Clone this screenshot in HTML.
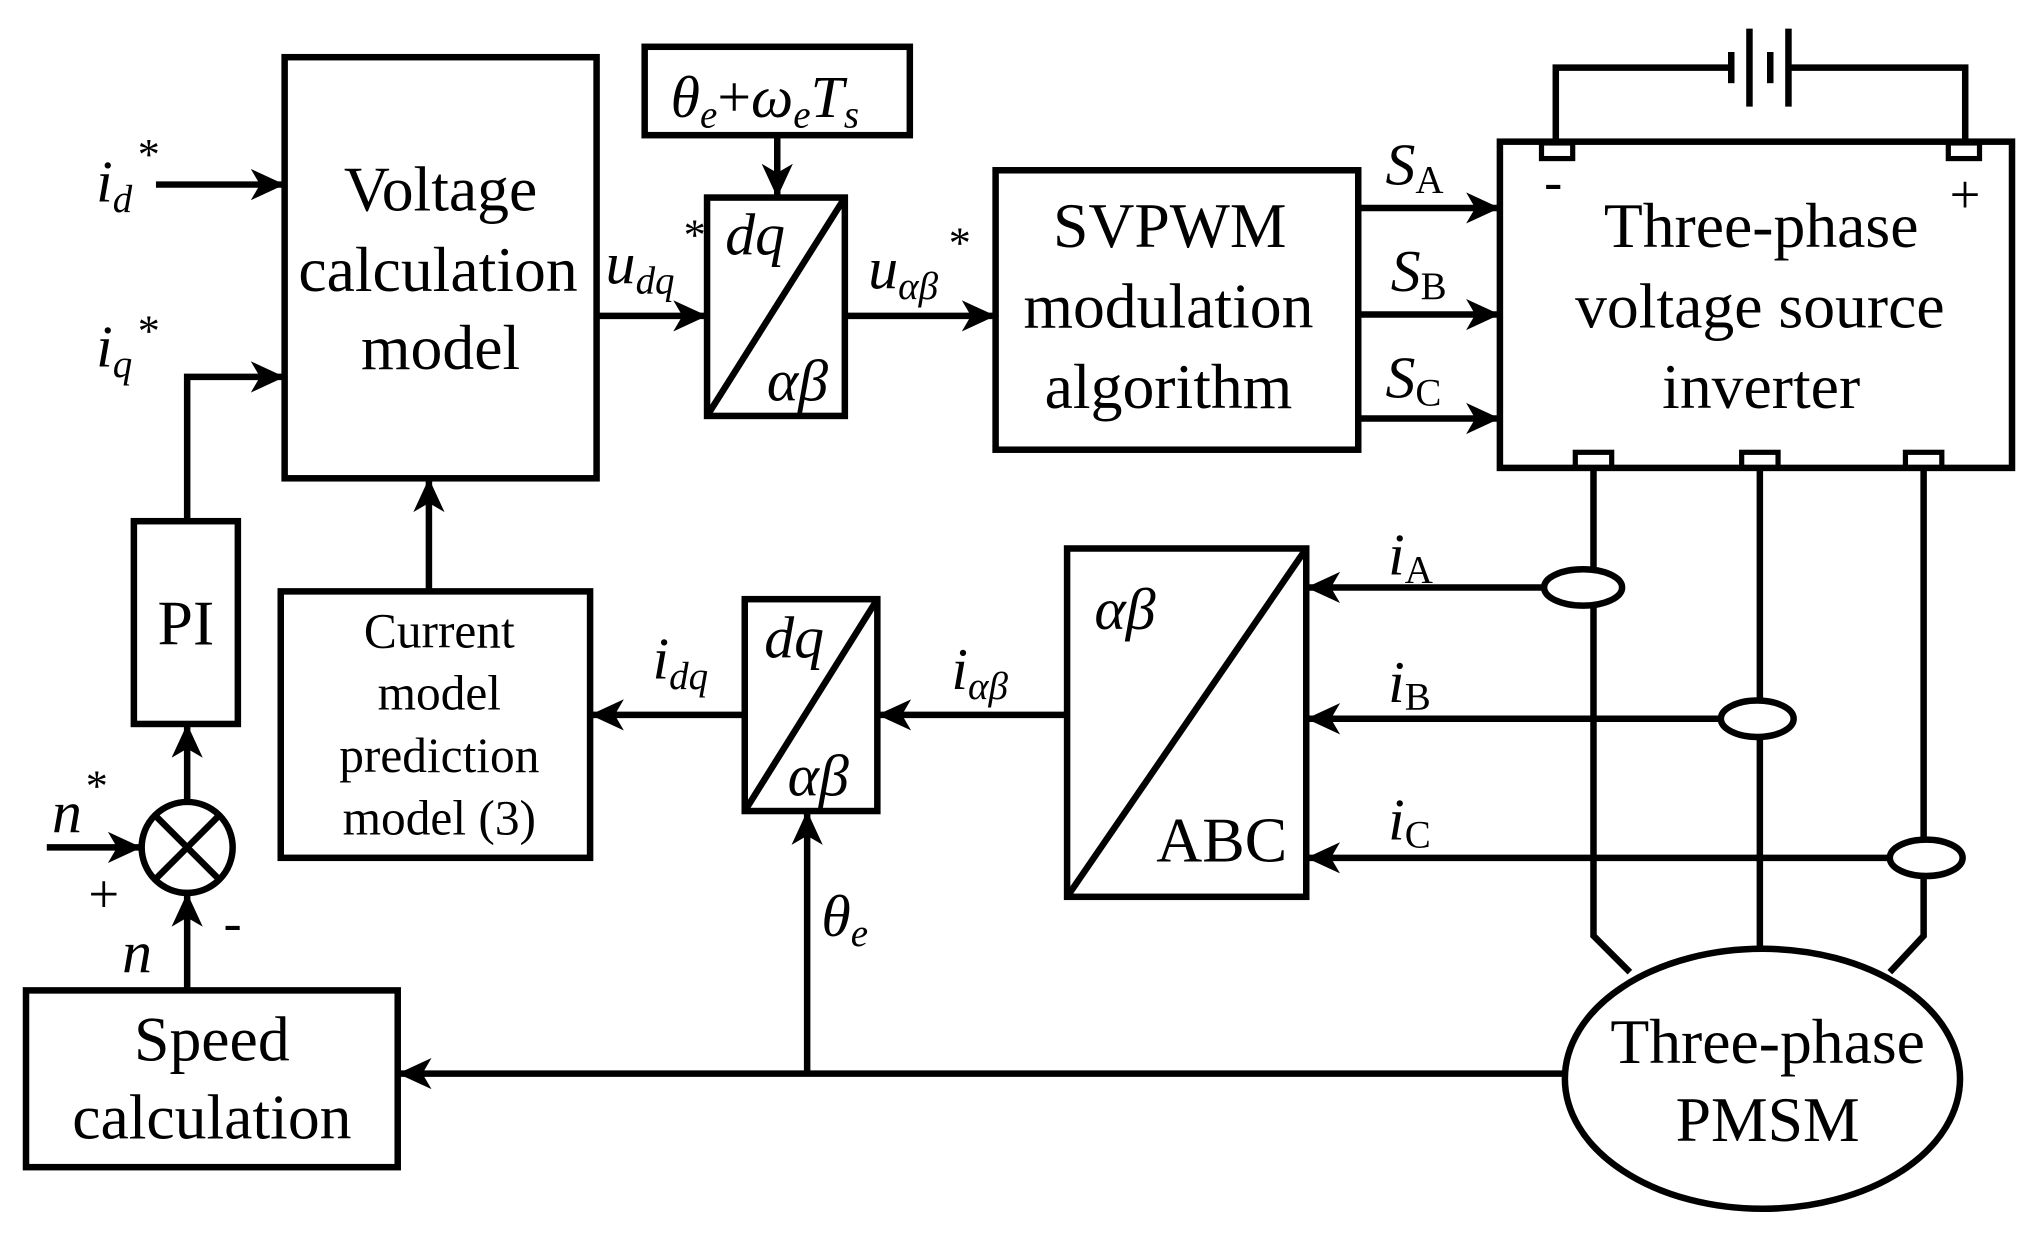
<!DOCTYPE html>
<html><head><meta charset="utf-8"><style>
html,body{margin:0;padding:0;background:#fff;}
svg{display:block;}
text{font-family:"Liberation Serif","Times New Roman","DejaVu Serif",serif;fill:#000;}
.i{font-style:italic;}
</style></head><body>
<svg width="2038" height="1238" viewBox="0 0 1568 952.5" preserveAspectRatio="none" xmlns="http://www.w3.org/2000/svg" font-family="Liberation Serif, DejaVu Serif, serif">
<defs>
<marker id="a" markerWidth="26" markerHeight="26" refX="24" refY="13" orient="auto" markerUnits="userSpaceOnUse">
<path d="M0,1 L26,13 L0,25 L7,13 Z" fill="#000"/>
</marker>
</defs>
<g fill="none" stroke="#000" stroke-width="5">
<rect x="219" y="44" width="240" height="324"/>
<rect x="496" y="36" width="204" height="68"/>
<rect x="544" y="152" width="106" height="168"/>
<line x1="544" y1="320" x2="650" y2="152"/>
<rect x="766" y="131" width="279" height="215"/>
<rect x="1154" y="109" width="394" height="251"/>
<rect x="821" y="422" width="184" height="268"/>
<line x1="821" y1="690" x2="1005" y2="422"/>
<rect x="573" y="461" width="102" height="163"/>
<line x1="573" y1="624" x2="675" y2="461"/>
<rect x="216" y="455" width="238" height="205"/>
<rect x="103" y="401" width="80" height="156"/>
<rect x="20" y="762" width="286" height="136"/>
<circle cx="144" cy="652" r="35"/>
<line x1="119" y1="627" x2="169" y2="677"/>
<line x1="169" y1="627" x2="119" y2="677"/>
<polyline points="1197,110 1197,52 1330,52"/>
<polyline points="1378,52 1512,52 1512,110"/>
<line x1="1332" y1="40" x2="1332" y2="64"/>
<line x1="1346" y1="22" x2="1346" y2="82"/>
<line x1="1362" y1="40" x2="1362" y2="64"/>
<line x1="1376" y1="22" x2="1376" y2="82"/>
<rect x="1186" y="110" width="24" height="12" stroke-width="4"/>
<rect x="1499" y="110" width="24" height="12" stroke-width="4"/>
<rect x="1212" y="348" width="28" height="12" stroke-width="4"/>
<rect x="1340" y="348" width="28" height="12" stroke-width="4"/>
<rect x="1466" y="348" width="28" height="12" stroke-width="4"/>
<polyline points="1226,360 1226,720 1254,748"/>
<polyline points="1354,360 1354,728"/>
<polyline points="1480,360 1480,720 1454,748"/>
<ellipse cx="1356" cy="830" rx="152" ry="100"/>
<ellipse cx="1218" cy="452" rx="30" ry="14" fill="#fff"/>
<ellipse cx="1352" cy="553" rx="28" ry="14" fill="#fff"/>
<ellipse cx="1482" cy="660" rx="28" ry="14" fill="#fff"/>
<line x1="120" y1="142" x2="217" y2="142" marker-end="url(#a)"/>
<polyline points="144,401 144,290 217,290" marker-end="url(#a)"/>
<line x1="459" y1="243" x2="542" y2="243" marker-end="url(#a)"/>
<line x1="650" y1="243" x2="764" y2="243" marker-end="url(#a)"/>
<line x1="598" y1="104" x2="598" y2="150" marker-end="url(#a)"/>
<line x1="1045" y1="160" x2="1152" y2="160" marker-end="url(#a)"/>
<line x1="1045" y1="242" x2="1152" y2="242" marker-end="url(#a)"/>
<line x1="1045" y1="322" x2="1152" y2="322" marker-end="url(#a)"/>
<line x1="1188" y1="452" x2="1007" y2="452" marker-end="url(#a)"/>
<line x1="1324" y1="553" x2="1007" y2="553" marker-end="url(#a)"/>
<line x1="1454" y1="660" x2="1007" y2="660" marker-end="url(#a)"/>
<line x1="821" y1="550" x2="677" y2="550" marker-end="url(#a)"/>
<line x1="573" y1="550" x2="456" y2="550" marker-end="url(#a)"/>
<line x1="330" y1="455" x2="330" y2="370" marker-end="url(#a)"/>
<line x1="1204" y1="826" x2="308" y2="826" marker-end="url(#a)"/>
<line x1="621" y1="826" x2="621" y2="626" marker-end="url(#a)"/>
<line x1="144" y1="762" x2="144" y2="689" marker-end="url(#a)"/>
<line x1="144" y1="617" x2="144" y2="559" marker-end="url(#a)"/>
<line x1="36" y1="652" x2="107" y2="652" marker-end="url(#a)"/>
</g>
<g font-size="49" text-anchor="middle">
<text x="339" y="162">Voltage</text>
<text x="337" y="224">calculation</text>
<text x="339" y="284">model</text>
<text x="900" y="190">SVPWM</text>
<text x="899" y="252">modulation</text>
<text x="899" y="314">algorithm</text>
<text x="1355" y="190">Three-phase</text>
<text x="1354" y="252">voltage source</text>
<text x="1355" y="314">inverter</text>
<text x="1360" y="818">Three-phase</text>
<text x="1360" y="878">PMSM</text>
<text x="163" y="816">Speed</text>
<text x="163" y="876">calculation</text>
<text x="143" y="496">PI</text>
<text x="940" y="663">ABC</text>
</g>
<g font-size="38" text-anchor="middle">
<text x="338" y="498">Current</text>
<text x="338" y="546">model</text>
<text x="338" y="594">prediction</text>
<text x="338" y="642">model (3)</text>
</g>
<g font-size="46" class="i">
<text x="516" y="90">θ<tspan font-size="30" dy="8">e</tspan><tspan dy="-8" font-style="normal">+</tspan>ω<tspan font-size="30" dy="8">e</tspan><tspan dy="-8">T</tspan><tspan font-size="30" dy="8">s</tspan></text>
<text x="558" y="196">dq</text>
<text x="590" y="308">αβ</text>
<text x="588" y="506">dq</text>
<text x="606" y="612">αβ</text>
<text x="842" y="484">αβ</text>
<text x="74" y="155">i<tspan font-size="30" dy="8">d</tspan></text>
<text x="74" y="282">i<tspan font-size="30" dy="8">q</tspan></text>
<text x="466" y="218">u<tspan font-size="30" dy="8">dq</tspan></text>
<text x="668" y="222">u<tspan font-size="30" dy="8">αβ</tspan></text>
<text x="1066" y="142">S<tspan font-size="30" dy="6" font-style="normal">A</tspan></text>
<text x="1070" y="224">S<tspan font-size="30" dy="6" font-style="normal">B</tspan></text>
<text x="1066" y="306">S<tspan font-size="30" dy="6" font-style="normal">C</tspan></text>
<text x="1068" y="442">i<tspan font-size="30" dy="6" font-style="normal">A</tspan></text>
<text x="1068" y="540">i<tspan font-size="30" dy="6" font-style="normal">B</tspan></text>
<text x="1068" y="646">i<tspan font-size="30" dy="6" font-style="normal">C</tspan></text>
<text x="732" y="530">i<tspan font-size="30" dy="8">αβ</tspan></text>
<text x="502" y="522">i<tspan font-size="30" dy="8">dq</tspan></text>
<text x="632" y="720">θ<tspan font-size="30" dy="8">e</tspan></text>
<text x="40" y="640">n</text>
<text x="94" y="748">n</text>
</g>
<g font-size="34">
<text x="106" y="130">*</text>
<text x="106" y="266">*</text>
<text x="526" y="192">*</text>
<text x="730" y="198">*</text>
<text x="66" y="616">*</text>
</g>
<g font-size="42">
<text x="68" y="702">+</text>
<text x="172" y="724">-</text>
<text x="1188" y="154">-</text>
<text x="1500" y="164">+</text>
</g>
</svg>
</body></html>
